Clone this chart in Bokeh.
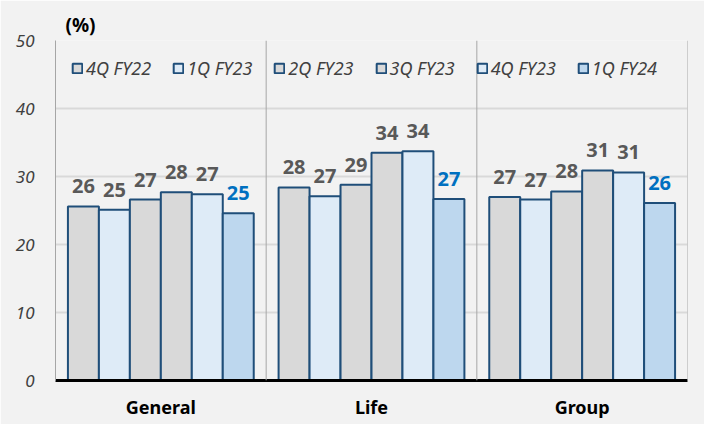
from bokeh.plotting import figure
from bokeh.models import Range1d, FixedTicker, SingleIntervalTicker, Span, Legend, LegendItem, ColumnDataSource
from bokeh.core.properties import value
from bokeh.embed import file_html
from bokeh.resources import INLINE

categories = ["General", "Life", "Group"]
series = ["4Q FY22", "1Q FY23", "2Q FY23", "3Q FY23", "4Q FY23", "1Q FY24"]
values = {
    "4Q FY22": [25.6, 28.4, 27.0],
    "1Q FY23": [25.1, 27.1, 26.6],
    "2Q FY23": [26.6, 28.8, 27.8],
    "3Q FY23": [27.7, 33.5, 30.9],
    "4Q FY23": [27.4, 33.7, 30.6],
    "1Q FY24": [24.6, 26.7, 26.1],
}
fills = ["#d9d9d9", "#deebf7", "#d9d9d9", "#d9d9d9", "#deebf7", "#bdd7ee"]
label_colors = ["#595959"] * 5 + ["#0070c0"]

FONT = "Noto Sans"

p = figure(width=704, height=424, output_backend="svg", toolbar_location=None,
           x_range=Range1d(-0.5, 2.5), y_range=Range1d(0, 50),
           min_border_left=55, min_border_right=17, min_border_top=40, min_border_bottom=44)
p.background_fill_color = "#f2f2f2"
p.border_fill_color = "#f2f2f2"
p.outline_line_color = None

p.title.text = "(%)"
p.title.align = "left"
p.title.offset = 10
p.title.text_font = FONT
p.title.text_font_style = "bold"
p.title.text_font_size = "19px"
p.title.text_color = "black"
p.title.standoff = 5

p.xgrid.grid_line_color = None
p.ygrid.grid_line_color = "#d9d9d9"
p.ygrid.grid_line_width = 2
p.yaxis.ticker = SingleIntervalTicker(interval=10)
p.yaxis.axis_line_color = "#a6a6a6"
p.yaxis.major_tick_line_color = None
p.yaxis.minor_tick_line_color = None
p.yaxis.major_label_text_font = FONT
p.yaxis.major_label_text_font_style = "italic"
p.yaxis.major_label_text_font_size = "17px"
p.yaxis.major_label_text_color = "#404040"
p.yaxis.major_label_standoff = 15

p.xaxis.ticker = FixedTicker(ticks=list(range(len(categories))))
p.xaxis.major_label_overrides = {i: c for i, c in enumerate(categories)}
p.xaxis.axis_line_color = "black"
p.xaxis.axis_line_width = 3
p.xaxis.major_tick_line_color = None
p.xaxis.minor_tick_line_color = None
p.xaxis.major_label_text_font = FONT
p.xaxis.major_label_text_font_style = "bold"
p.xaxis.major_label_text_font_size = "18px"
p.xaxis.major_label_text_color = "black"
p.xaxis.major_label_standoff = 8

for xs in [0.5, 1.5, 2.5]:
    p.add_layout(Span(location=xs, dimension="height", line_color="#a6a6a6", line_width=1))

bw = 0.147
items = []
for j, s in enumerate(series):
    xs = [i + (j - 2.5) * bw for i in range(len(categories))]
    src = ColumnDataSource(dict(x=xs, top=values[s], lab=[f"{v:.0f}" for v in values[s]]))
    r = p.vbar(x="x", top="top", width=bw, bottom=0, source=src,
               fill_color=fills[j], line_color="#1f4e79", line_width=2)
    p.text(x="x", y="top", text="lab", source=src, text_align="center", text_baseline="bottom",
           y_offset=-13, text_font=value(FONT), text_font_size="20px",
           text_font_style="bold", text_color=label_colors[j])
    items.append(LegendItem(label=s, renderers=[r]))

legend = Legend(items=items, orientation="horizontal", location="top_left",
                background_fill_alpha=0, border_line_color=None,
                label_text_font=FONT, label_text_font_style="italic",
                label_text_font_size="18px", label_text_color="#404040",
                glyph_width=12, glyph_height=12, label_standoff=3, spacing=21,
                margin=16, padding=4)
p.add_layout(legend)

open("out.html", "w").write(file_html(p, INLINE))
